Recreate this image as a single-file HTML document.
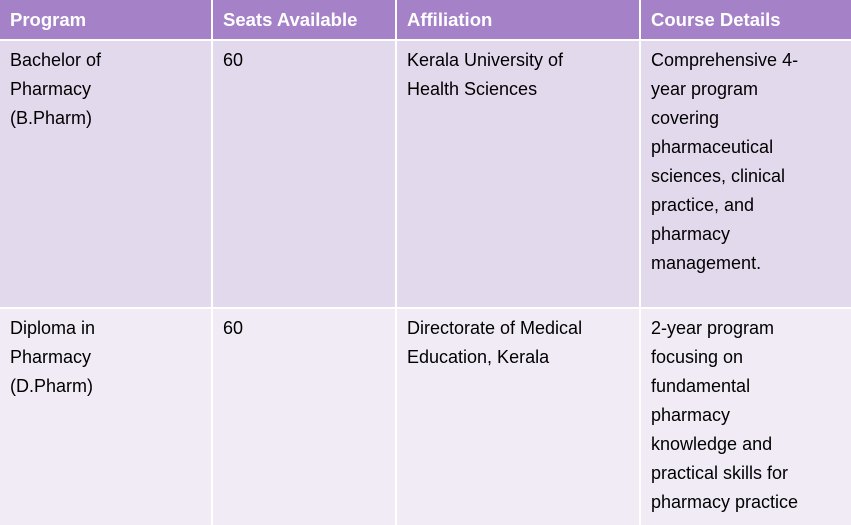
<!DOCTYPE html>
<html><head><meta charset="utf-8"><style>
body{margin:0;width:851px;height:525px;overflow:hidden;background:#fff;font-family:"Liberation Sans",sans-serif;}
.c{position:absolute;box-sizing:border-box;padding-left:10px;color:#000;font-size:18px;line-height:29px;}
.h{background:#A582C8;color:#fff;font-weight:bold;font-size:18.5px;line-height:40px;height:39px;top:0;}
.r1{background:#E3D9EC;top:41px;height:266px;padding-top:5px;}
.r2{background:#F0EBF5;top:309px;height:216px;padding-top:5px;}
</style></head><body>
<div>
<div class="c h" style="left:0;width:211px">Program</div>
<div class="c h" style="left:213px;width:182px">Seats Available</div>
<div class="c h" style="left:397px;width:242px">Affiliation</div>
<div class="c h" style="left:641px;width:210px">Course Details</div>

<div class="c r1" style="left:0;width:211px">Bachelor of<br>Pharmacy<br>(B.Pharm)</div>
<div class="c r1" style="left:213px;width:182px">60</div>
<div class="c r1" style="left:397px;width:242px">Kerala University of<br>Health Sciences</div>
<div class="c r1" style="left:641px;width:210px">Comprehensive 4-<br>year program<br>covering<br>pharmaceutical<br>sciences, clinical<br>practice, and<br>pharmacy<br>management.</div>

<div class="c r2" style="left:0;width:211px">Diploma in<br>Pharmacy<br>(D.Pharm)</div>
<div class="c r2" style="left:213px;width:182px">60</div>
<div class="c r2" style="left:397px;width:242px">Directorate of Medical<br>Education, Kerala</div>
<div class="c r2" style="left:641px;width:210px">2-year program<br>focusing on<br>fundamental<br>pharmacy<br>knowledge and<br>practical skills for<br>pharmacy practice</div>
</div>
</body></html>
